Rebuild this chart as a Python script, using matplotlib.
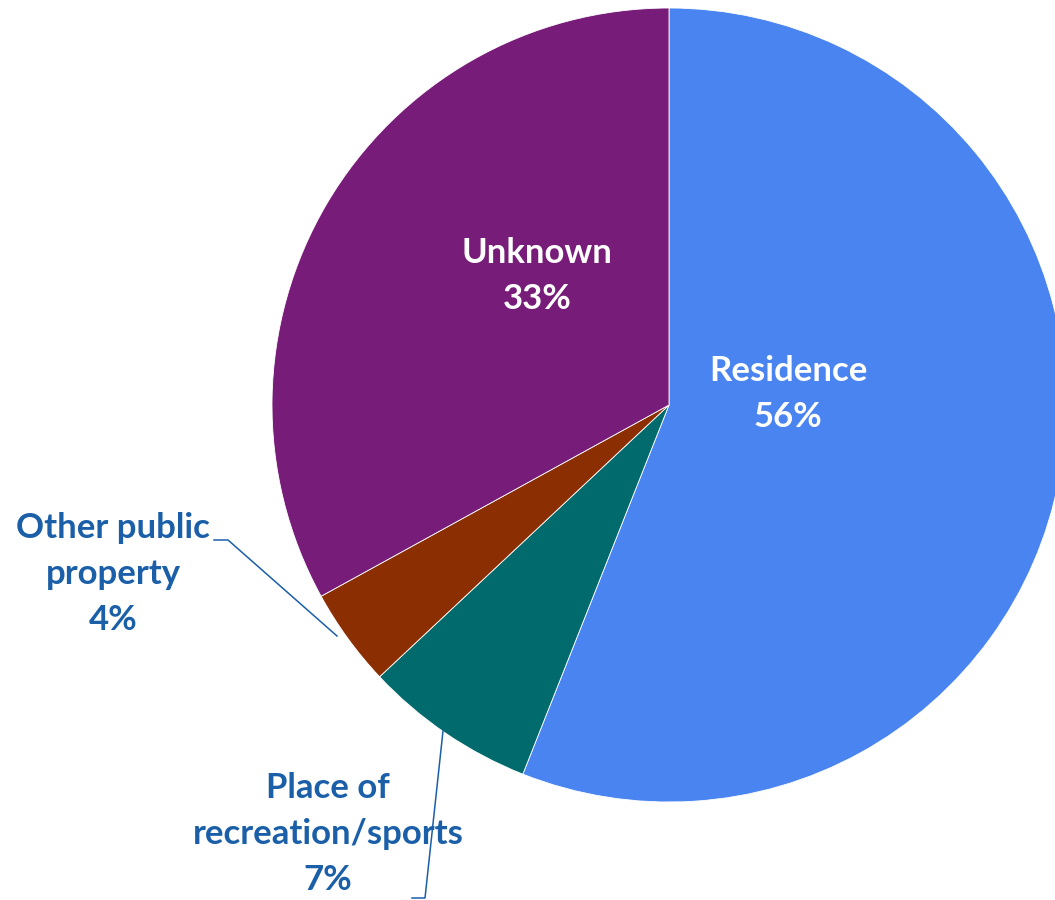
import matplotlib.pyplot as plt

# location categories and their shares (%)
categories = ['Residence', 'Place of\nrecreation/sports', 'Other public\nproperty', 'Unknown']
shares = [56, 7, 4, 33]
colors = ['#4a84f0', '#006a6d', '#8b2f02', '#771d79']

label_blue = '#1a5fa8'

fig = plt.figure(figsize=(10.55, 9), dpi=100)
ax = fig.add_axes([0, 0, 1, 1])

# pixel-like coordinates, origin bottom-left
cx, cy, r = 669, 495, 397
ax.pie(shares, colors=colors, startangle=90, counterclock=False,
       center=(cx, cy), radius=r, frame=True,
       wedgeprops=dict(linewidth=0.6, edgecolor='white'))
ax.set_xlim(0, 1055)
ax.set_ylim(0, 900)
ax.set_aspect('equal')
ax.axis('off')

font = dict(family=['Lato', 'DejaVu Sans'], fontweight='bold', fontsize=25,
            ha='center', va='center', linespacing=1.53)

def label(i):
    return f'{categories[i]}\n{shares[i]}%'

# labels inside the big slices
ax.text(788, 900 - 394, label(0), color='white', **font)
ax.text(537, 900 - 276, label(3), color='white', **font)

# outside labels with leader lines
ax.text(113, 900 - 574, label(2), color=label_blue, **font)
ax.plot([337, 228, 214], [900 - 636, 900 - 540, 900 - 540], color=label_blue, lw=1.1)

ax.text(328, 900 - 834, label(1), color=label_blue, **font)
ax.plot([443, 425, 412], [900 - 731, 900 - 898, 900 - 898], color=label_blue, lw=1.1)

fig.savefig('out.png', dpi=100)
